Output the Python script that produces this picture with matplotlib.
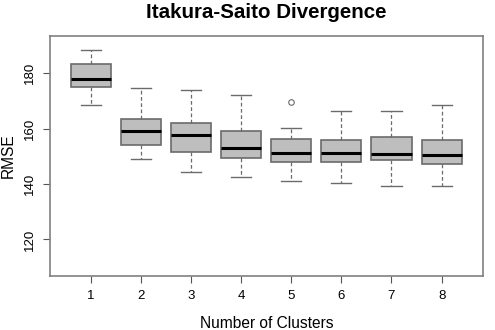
import matplotlib.pyplot as plt

# Itakura-Saito divergence, RMSE per number of clusters
clusters = [1, 2, 3, 4, 5, 6, 7, 8]
whislo = [168.7, 149.1, 144.5, 142.7, 141.0, 140.3, 139.4, 139.4]
q1 = [175.2, 154.2, 151.6, 149.3, 147.9, 148.1, 148.6, 147.1]
med = [177.8, 159.3, 157.7, 153.1, 151.3, 151.3, 150.9, 150.4]
q3 = [183.5, 163.5, 162.1, 159.1, 156.3, 155.8, 156.9, 155.8]
whishi = [188.4, 174.8, 174.1, 172.1, 160.4, 166.5, 166.5, 168.4]
fliers = [[], [], [], [], [169.5], [], [], []]

plt.rcParams['font.family'] = ['Liberation Sans', 'DejaVu Sans']

stats = []
for i in range(len(clusters)):
    stats.append({"label": str(clusters[i]), "whislo": whislo[i], "q1": q1[i],
                  "med": med[i], "q3": q3[i], "whishi": whishi[i],
                  "fliers": fliers[i]})

fig = plt.figure(figsize=(4.95, 3.3), dpi=100)
ax = fig.add_axes([0.101, 0.1636, 0.874, 0.7274])

edge = "#6b6b6b"
ax.bxp(stats, positions=clusters, widths=0.8, patch_artist=True,
       boxprops=dict(facecolor="#bebebe", edgecolor=edge, linewidth=1.2),
       medianprops=dict(color="black", linewidth=2.2),
       whiskerprops=dict(color=edge, linestyle=(0, (3, 2)), linewidth=0.9),
       capprops=dict(color=edge, linewidth=1.0),
       capwidths=0.4,
       flierprops=dict(marker="o", markersize=4, markerfacecolor="none",
                       markeredgecolor=edge, markeredgewidth=0.8))

ax.set_xlim(0.18, 8.82)
ax.set_ylim(106.8, 193.5)
ax.set_yticks([120, 140, 160, 180])
ax.set_xticks(clusters)
ax.set_xticklabels([str(c) for c in clusters])
for lab in ax.get_yticklabels():
    lab.set_rotation(90)
    lab.set_va("center")
ax.tick_params(axis="both", labelsize=9.5, length=5, width=0.8, color="#555555",
               direction="out", pad=5)

for sp in ax.spines.values():
    sp.set_color("#808080")
    sp.set_linewidth(1.2)

ax.set_title("Itakura-Saito Divergence", fontsize=14.8, fontweight="bold", pad=13)
ax.set_xlabel("Number of Clusters", fontsize=11.2, labelpad=10)
ax.set_ylabel("RMSE", fontsize=11.2, labelpad=6)

fig.savefig("out.png", dpi=100)
